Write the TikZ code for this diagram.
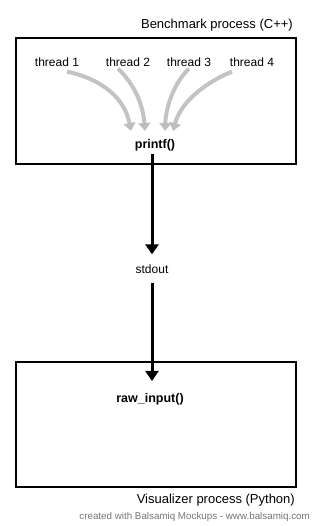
\documentclass[tikz,border=0pt]{standalone}
\usepackage{fontspec}
\setmainfont{Liberation Sans}
\usetikzlibrary{arrows.meta}
\begin{document}
\begin{tikzpicture}[x=1pt,y=-1pt,
  proc/.style={draw=black, line width=1.3pt},
  lbl/.style={font=\fontsize{12}{14}\selectfont, inner sep=0pt},
  titlelbl/.style={font=\fontsize{13}{15}\selectfont, inner sep=0pt, anchor=east},
  boldlbl/.style={font=\fontsize{12.5}{14}\selectfont\bfseries, inner sep=0pt},
  thr/.style={draw=black!28, line width=4pt, opacity=0.85, -{Triangle[width=12pt,length=8pt]}},
  flow/.style={draw=black, line width=3pt, -{Triangle[width=13pt,length=10pt]}}]
\useasboundingbox (0,0) rectangle (314,526);
\draw[proc] (16,38) rectangle (296,164);
\draw[proc] (16,362) rectangle (296,487);
\node[titlelbl] (bench) at (293,25) {Benchmark process (C++)};
\node[lbl] (t1) at (57,62) {thread 1};
\node[lbl] (t2) at (128,62) {thread 2};
\node[lbl] (t3) at (189,62) {thread 3};
\node[lbl] (t4) at (252,62) {thread 4};
\node[boldlbl] (printf) at (155,145) {printf()};
\node[lbl] (stdout) at (152,269) {stdout};
\node[boldlbl] (raw) at (150,399) {raw\_input()};
\node[titlelbl] (vis) at (295,500) {Visualizer process (Python)};
\node[lbl, anchor=east, text=black!55, font=\fontsize{9.8}{11}\selectfont] (credit) at (310,517) {created with Balsamiq Mockups - www.balsamiq.com};
\draw[thr] ([xshift=10pt,yshift=-5pt]t1.south) .. controls (105,80) and (125,100) .. ([xshift=-24pt,yshift=8pt]printf.north);
\draw[thr] ([xshift=-10pt,yshift=-2pt]t2.south) .. controls (135,85) and (143,105) .. ([xshift=-10pt,yshift=8pt]printf.north);
\draw[thr] ([yshift=-2pt]t3.south) .. controls (175,82) and (166,105) .. ([xshift=10pt,yshift=8pt]printf.north);
\draw[thr] ([xshift=-20pt,yshift=-5pt]t4.south) .. controls (200,85) and (180,105) .. ([xshift=18pt,yshift=8pt]printf.north);
\draw[flow] ([yshift=-3pt]printf.south -| stdout.north) -- ([yshift=10pt]stdout.north);
\draw[flow] ([yshift=-9pt]stdout.south) -- ([yshift=12pt]raw.north -| stdout.south);
\end{tikzpicture}
\end{document}
